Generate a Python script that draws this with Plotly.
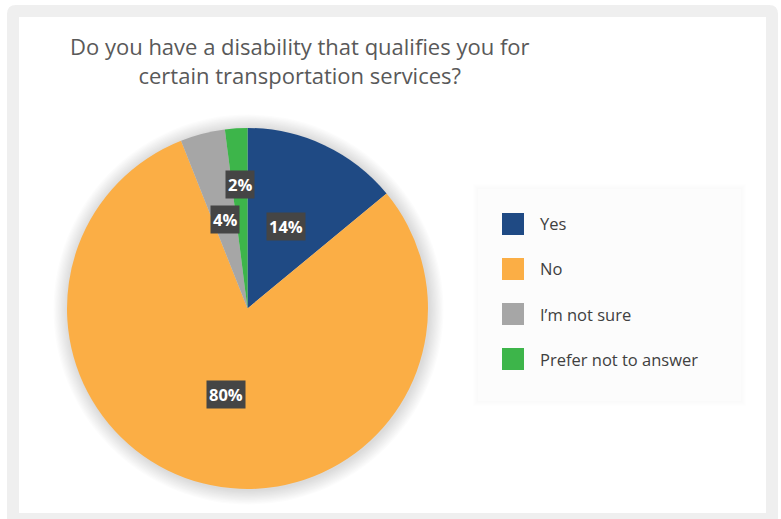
import math
import plotly.graph_objects as go

# Survey answers and their shares (percent)
categories = ["Yes", "No", "I\u2019m not sure", "Prefer not to answer"]
shares = [14, 80, 4, 2]
colors = ["#1F4A84", "#FBAE45", "#A6A6A6", "#3DB54A"]

title_text = "Do you have a disability that qualifies you for<br>certain transportation services?"

W, H = 781, 519

# pie geometry in pixels
CX, CY, R = 247.5, 308.5, 180.5
# distance of each data label from the centre, as a fraction of the radius
LABEL_RADIUS = [0.5, 0.49, 0.51, 0.69]


def px(x):
    return x / W


def py(y):
    return 1 - y / H


fig = go.Figure()

fig.add_trace(go.Pie(
    labels=categories,
    values=shares,
    sort=False,
    direction="clockwise",
    rotation=0,
    marker=dict(colors=colors, line=dict(width=0)),
    textinfo="none",
    hoverinfo="label+percent",
    domain=dict(x=[px(CX - R), px(CX + R)], y=[py(CY + R), py(CY - R)]),
    showlegend=False,
))

shapes = []
# grey card frame with rounded corners, white panel inside
x0, y0, x1, y1, rr = 7, 5, 778, 530, 9
path = (f"M {px(x0 + rr)} {py(y0)} L {px(x1 - rr)} {py(y0)} "
        f"Q {px(x1)} {py(y0)} {px(x1)} {py(y0 + rr)} L {px(x1)} {py(y1)} "
        f"L {px(x0)} {py(y1)} L {px(x0)} {py(y0 + rr)} "
        f"Q {px(x0)} {py(y0)} {px(x0 + rr)} {py(y0)} Z")
shapes.append(dict(type="path", xref="paper", yref="paper", path=path,
                   fillcolor="#EFEFEF", line=dict(width=0), layer="below"))
shapes.append(dict(type="rect", xref="paper", yref="paper",
                   x0=px(19), x1=px(766), y0=py(513), y1=py(17),
                   fillcolor="#FFFFFF", line=dict(width=0), layer="below"))

# soft shadow round the pie
for k in range(1, 13):
    rad = R + k * 1.2
    shapes.append(dict(type="circle", xref="paper", yref="paper",
                       x0=px(CX - rad + 1), x1=px(CX + rad + 1),
                       y0=py(CY + rad + 1), y1=py(CY - rad + 1),
                       fillcolor="rgba(130,130,140,0.025)", line=dict(width=0),
                       layer="below"))

# legend panel with a faint shadow
for k in range(5, 0, -1):
    shapes.append(dict(type="rect", xref="paper", yref="paper",
                       x0=px(478 - k), x1=px(741 + k), y0=py(401 + k), y1=py(189 - k),
                       fillcolor="rgba(210,210,215,0.025)", line=dict(width=0),
                       layer="below"))
shapes.append(dict(type="rect", xref="paper", yref="paper",
                   x0=px(478), x1=px(741), y0=py(401), y1=py(189),
                   fillcolor="#FCFCFC", line=dict(width=0), layer="below"))

annotations = []

# legend entries
LEG_X, LEG_Y0, LEG_STEP, SW = 502, 224, 45, 22
for i, (cat, col) in enumerate(zip(categories, colors)):
    yc = LEG_Y0 + i * LEG_STEP
    shapes.append(dict(type="rect", xref="paper", yref="paper",
                       x0=px(LEG_X), x1=px(LEG_X + SW),
                       y0=py(yc + SW / 2), y1=py(yc - SW / 2),
                       fillcolor=col, line=dict(width=0)))
    annotations.append(dict(xref="paper", yref="paper", x=px(LEG_X + SW + 14), y=py(yc),
                            text=cat, showarrow=False, xanchor="left", yanchor="middle",
                            font=dict(family="Open Sans", size=16.5, color="#404040")))

# data labels placed at each slice's mid angle
total = sum(shares)
cum = 0
for v, f in zip(shares, LABEL_RADIUS):
    mid = (cum + v / 2) / total * 2 * math.pi
    cum += v
    lx = CX + f * R * math.sin(mid)
    ly = CY - f * R * math.cos(mid)
    annotations.append(dict(xref="paper", yref="paper", x=px(lx), y=py(ly),
                            text=f"<b>{v}%</b>", showarrow=False,
                            xanchor="center", yanchor="middle",
                            bgcolor="#454545", borderpad=2,
                            font=dict(family="Open Sans", size=16.5, color="#FFFFFF")))

# title
annotations.append(dict(xref="paper", yref="paper", x=px(300), y=py(61),
                        text=title_text, showarrow=False,
                        xanchor="center", yanchor="middle", align="center",
                        font=dict(family="Open Sans", size=22, color="#595959")))

fig.update_layout(
    width=W, height=H,
    margin=dict(l=0, r=0, t=0, b=0),
    paper_bgcolor="#FFFFFF",
    plot_bgcolor="#FFFFFF",
    shapes=shapes,
    annotations=annotations,
)

fig.write_html("out.html")
